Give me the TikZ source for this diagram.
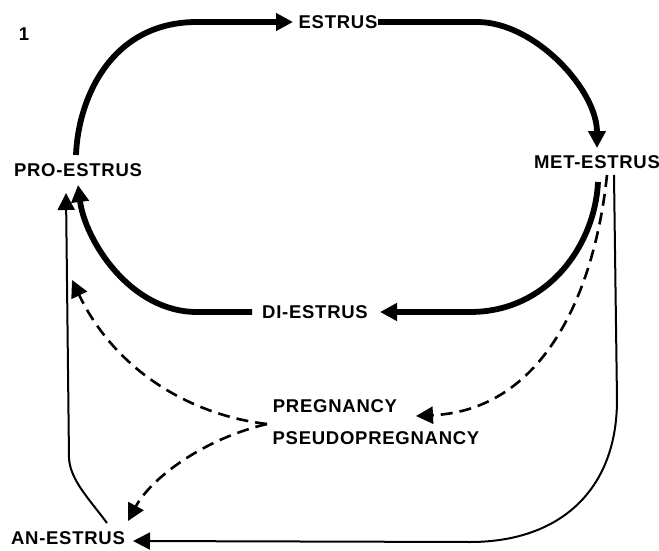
\documentclass[tikz,border=0pt]{standalone}
\usepackage{fontspec}
\setmainfont{Liberation Sans}[LetterSpace=4]
\usetikzlibrary{arrows.meta}
\begin{document}
\begin{tikzpicture}[x=1pt,y=-1pt,
  lbl/.style={font=\fontsize{18.5}{22}\selectfont\bfseries, inner sep=2pt},
  tip/.style={-{Triangle[length=17pt,width=17pt]}},
  heavy/.style={tip, line width=5.8pt},
  light/.style={tip, line width=2pt},
  dashline/.style={tip, line width=2.6pt, dash pattern=on 12pt off 7pt}]
\useasboundingbox (0,0) rectangle (659,551);
\node[lbl] (fig) at (24,34) {1};
\node[lbl] (estrus) at (338,22) {ESTRUS};
\node[lbl] (pro) at (78,170) {PRO-ESTRUS};
\node[lbl] (met) at (597,162) {MET-ESTRUS};
\node[lbl] (di) at (315,312) {DI-ESTRUS};
\node[lbl] (preg) at (335,406) {PREGNANCY};
\node[lbl] (pseudo) at (376,438) {PSEUDOPREGNANCY};
\node[lbl] (an) at (68,538) {AN-ESTRUS};
\coordinate (src) at (267,424);
% main cycle
\draw[heavy] ([xshift=-2pt,yshift=15pt]pro.center) .. controls (78,100) and (110,22) .. (197,22) -- ([xshift=-45pt]estrus.center);
\draw[heavy] ([xshift=40pt]estrus.center) -- (477,22) .. controls (535,22) and (597,90) .. ([yshift=14pt]met.center);
\draw[heavy] ([xshift=1pt,yshift=-20pt]met.center) .. controls (595,245) and (548,312) .. (470,312) -- ([xshift=65pt]di.center);
\draw[heavy] ([xshift=-63pt]di.center) -- (197,312) .. controls (130,312) and (85,240) .. ([yshift=-15pt]pro.center);
% thin lines
\draw[light] ([xshift=39pt,yshift=15pt]an.center) .. controls (90,500) and (70,480) .. (69,458) -- ([xshift=-12pt,yshift=-23pt]pro.center);
\draw[light] ([xshift=17pt,yshift=-13pt]met.center) -- (617,400) .. controls (617,490) and (560,542) .. (470,542) -- ([xshift=65pt,yshift=-3pt]an.center);
% dashed
\draw[dashline] ([xshift=10pt,yshift=-13pt]met.center) .. controls (595,290) and (545,410) .. ([xshift=81pt,yshift=-10pt]preg.center);
\draw[dashline] (src) .. controls (190,415) and (115,370) .. ([xshift=-6pt,yshift=-110pt]pro.center);
\draw[dashline] (src) .. controls (200,440) and (150,480) .. ([xshift=60pt,yshift=17pt]an.center);
\end{tikzpicture}
\end{document}
